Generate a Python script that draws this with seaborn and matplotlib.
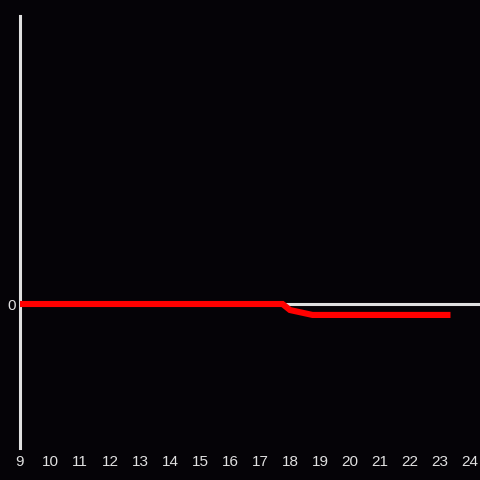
import matplotlib
matplotlib.use("Agg")
import matplotlib.pyplot as plt
import seaborn as sns
import pandas as pd

# hours and values of the red series
hours = [9, 17.75, 18.0, 18.75, 23.35]
values = [0.0, 0.0, -0.042, -0.076, -0.076]
x_ticks = list(range(9, 25))

bg = "#050307"
axis_color = "#e0e0e0"

sns.set_theme(style="dark")
plt.rcParams["font.family"] = ["Liberation Sans", "DejaVu Sans"]

fig = plt.figure(figsize=(4.8, 4.8), dpi=100, facecolor=bg)
ax = fig.add_axes([20 / 480, 32 / 480, 460 / 480, 432 / 480])
ax.set_facecolor(bg)

df = pd.DataFrame({"hour": hours, "value": values})

# zero line
ax.axhline(0, color=axis_color, linewidth=2.2, zorder=1)
sns.lineplot(data=df, x="hour", y="value", color="#ff0000", linewidth=4.4,
             ax=ax, zorder=3, solid_capstyle="butt", solid_joinstyle="miter")

ax.set_xlim(9, 9 + 460 / 30)
ax.set_ylim(-1, 2)
ax.set_xticks(x_ticks)
ax.set_xticklabels([str(t) for t in x_ticks])
ax.set_yticks([0])
ax.set_yticklabels(["0"])
ax.set_xlabel("")
ax.set_ylabel("")
ax.grid(False)

for side in ["top", "right", "bottom"]:
    ax.spines[side].set_visible(False)
ax.spines["left"].set_color(axis_color)
ax.spines["left"].set_linewidth(2.2)

ax.tick_params(axis="both", length=0, colors=axis_color, labelsize=11)
ax.tick_params(axis="x", pad=5)
ax.tick_params(axis="y", pad=3)

fig.savefig("out.png", dpi=100, facecolor=bg)
